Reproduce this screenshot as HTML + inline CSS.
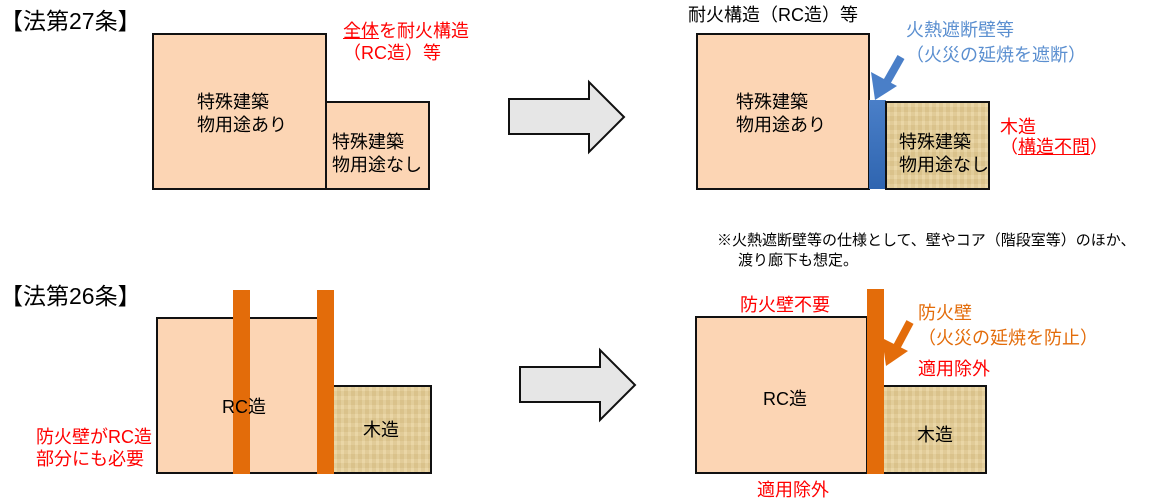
<!DOCTYPE html>
<html><head><meta charset="utf-8"><style>
body{margin:0;width:1154px;height:504px;background:#fff;position:relative;overflow:hidden;font-family:"Liberation Sans","Noto Sans CJK JP",sans-serif;}
.t{position:absolute;white-space:nowrap;line-height:1;font-size:18px;}
.b{position:absolute;box-sizing:border-box;border:2px solid #111;}
.p{background:#fcd5b4;}
.w{background:repeating-linear-gradient(90deg,rgba(255,255,255,.08) 0 3px,rgba(120,90,30,.06) 3px 7px),repeating-linear-gradient(0deg,rgba(255,255,255,.07) 0 4px,rgba(120,90,30,.05) 4px 9px),#e6cf98;}
.r{color:#ff0000}
</style></head><body>
<svg width="1154" height="504" style="position:absolute;left:0;top:0">
<polygon points="509,99 589,99 589,82 624,117 589,152 589,134 509,134" fill="#e6e6e6" stroke="#111" stroke-width="2"/>
<polygon points="520,367 600,367 600,350 635,385 600,420 600,402 520,402" fill="#e6e6e6" stroke="#111" stroke-width="2"/>
</svg>
<div class="t" style="left:0;top:10px;font-size:23px;">【法第27条】</div>
<div class="b p" style="left:152px;top:33px;width:175px;height:157px;"></div>
<div class="b p" style="left:325px;top:101px;width:105px;height:89px;"></div>
<div class="t" style="left:197px;top:91px;line-height:23px;">特殊建築<br>物用途あり</div>
<div class="t" style="left:332px;top:131px;line-height:23px;">特殊建築<br>物用途なし</div>
<div class="t r" style="left:343px;top:22px;"><u>全体</u>を耐火構造</div>
<div class="t r" style="left:343px;top:44px;">（RC造）等</div>

<div class="t" style="left:688px;top:6px;">耐火構造（RC造）等</div>
<div class="b p" style="left:696px;top:33px;width:174px;height:157px;"></div>
<div style="position:absolute;left:869px;top:100px;width:17px;height:89px;background:linear-gradient(#4a7fc8,#2f65b0);"></div>
<div class="b w" style="left:885px;top:101px;width:105px;height:89px;"></div>
<div class="t" style="left:736px;top:91px;line-height:23px;">特殊建築<br>物用途あり</div>
<div class="t" style="left:899px;top:131px;line-height:23px;">特殊建築<br>物用途なし</div>
<div class="t" style="left:906px;top:21px;color:#5b8fd0;">火熱遮断壁等</div>
<div class="t" style="left:906px;top:46px;color:#5b8fd0;">（火災の延焼を遮断）</div>
<svg width="1154" height="504" style="position:absolute;left:0;top:0">
<line x1="901" y1="57" x2="884" y2="87" stroke="#4a7fc8" stroke-width="8"/>
<polygon points="875,100 871,72 897,86" fill="#4a7fc8"/>
</svg>
<div class="t r" style="left:1000px;top:118px;">木造</div>
<div class="t r" style="left:1000px;top:138px;">（<u>構造不問</u>）</div>

<div class="t" style="left:717px;top:233px;font-size:15px;">※火熱遮断壁等の仕様として、壁やコア（階段室等）のほか、</div>
<div class="t" style="left:738px;top:253px;font-size:15px;">渡り廊下も想定。</div>

<div class="t" style="left:0;top:285px;font-size:23px;">【法第26条】</div>
<div class="b p" style="left:156px;top:317px;width:178px;height:157px;"></div>
<div class="b w" style="left:332px;top:385px;width:100px;height:89px;"></div>
<div style="position:absolute;left:233px;top:290px;width:17px;height:184px;background:#e36c0a;"></div>
<div style="position:absolute;left:317px;top:290px;width:17px;height:184px;background:#e36c0a;"></div>
<div class="t" style="left:222px;top:398px;">RC造</div>
<div class="t" style="left:363px;top:421px;">木造</div>
<div class="t r" style="left:36px;top:428px;">防火壁がRC造</div>
<div class="t r" style="left:36px;top:450px;">部分にも必要</div>

<div class="b p" style="left:695px;top:316px;width:173px;height:158px;"></div>
<div class="b w" style="left:882px;top:385px;width:105px;height:89px;"></div>
<div style="position:absolute;left:867px;top:289px;width:17px;height:185px;background:#e36c0a;"></div>
<div class="t" style="left:763px;top:390px;">RC造</div>
<div class="t" style="left:917px;top:426px;">木造</div>
<div class="t r" style="left:740px;top:296px;">防火壁不要</div>
<div class="t" style="left:918px;top:304px;color:#e36c0a;">防火壁</div>
<div class="t" style="left:918px;top:329px;color:#e36c0a;">（火災の延焼を防止）</div>
<div class="t r" style="left:918px;top:360px;">適用除外</div>
<div class="t r" style="left:757px;top:481px;">適用除外</div>
<svg width="1154" height="504" style="position:absolute;left:0;top:0">
<line x1="910" y1="322" x2="894" y2="352" stroke="#e36c0a" stroke-width="8"/>
<polygon points="886,366 882,338 908,351" fill="#e36c0a"/>
</svg>
</body></html>
